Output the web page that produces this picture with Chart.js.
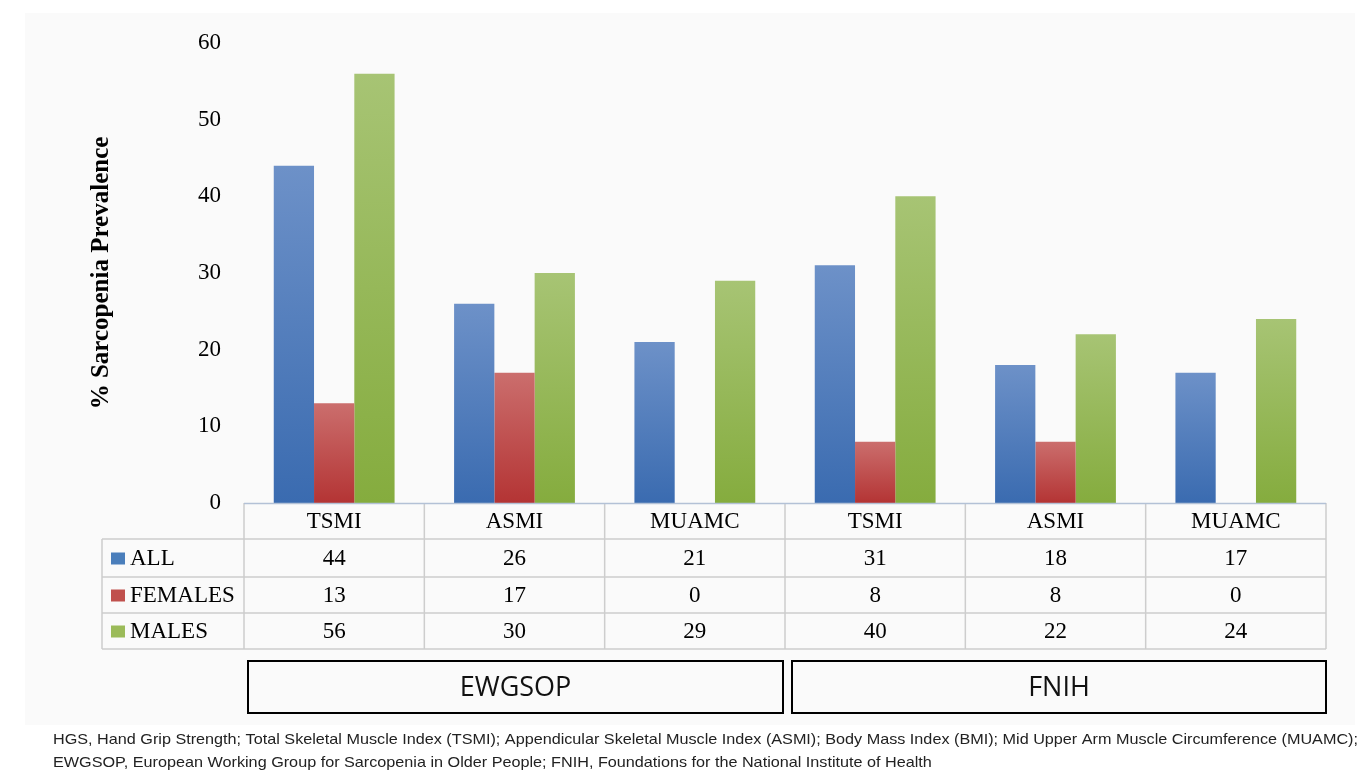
<!DOCTYPE html>
<html>
<head>
<meta charset="utf-8">
<script src="https://cdn.jsdelivr.net/npm/chart.js@4"></script>
<style>
  html, body { margin: 0; padding: 0; background: #ffffff; }
  #wrap { width: 1367px; height: 772px; position: relative; }
</style>
</head>
<body>
<div id="wrap"><canvas id="chart" width="1367" height="772"></canvas></div>
<script>
// Sarcopenia prevalence (%) by definition and criterion
const categories = ['TSMI', 'ASMI', 'MUAMC', 'TSMI', 'ASMI', 'MUAMC'];
const groups = ['EWGSOP', 'FNIH'];
const seriesNames = ['ALL', 'FEMALES', 'MALES'];
const allValues = [44, 26, 21, 31, 18, 17];
const femaleValues = [13, 17, 0, 8, 8, 0];
const maleValues = [56, 30, 29, 40, 22, 24];
const yTicks = [0, 10, 20, 30, 40, 50, 60];
const footnotes = [
  'HGS, Hand Grip Strength; Total Skeletal Muscle Index (TSMI); Appendicular Skeletal Muscle Index (ASMI); Body Mass Index (BMI); Mid Upper Arm Muscle Circumference (MUAMC);',
  'EWGSOP, European Working Group for Sarcopenia in Older People; FNIH, Foundations for the National Institute of Health'
];

// top / bottom shades for each series, plus the flat key colour
const palette = [
  { top: '#6d91c8', bottom: '#3a6bb0', key: '#4a7ebb' },
  { top: '#cb6e6d', bottom: '#b43434', key: '#c0504d' },
  { top: '#a7c474', bottom: '#85ac3e', key: '#9bbb59' }
];

const serifFont = '"Liberation Serif", "DejaVu Serif", serif';

function barGradient(ctx, idx) {
  const chart = ctx.chart;
  const c = palette[idx];
  if (!chart.chartArea || ctx.parsed === undefined) return c.key;
  const y = chart.scales.y;
  const top = y.getPixelForValue(ctx.parsed.y);
  const bottom = y.getPixelForValue(0);
  if (!isFinite(top) || bottom - top < 1) return c.key;
  const g = chart.ctx.createLinearGradient(0, top, 0, bottom);
  g.addColorStop(0, c.top);
  g.addColorStop(1, c.bottom);
  return g;
}

const backdrop = {
  id: 'backdrop',
  beforeDraw(chart) {
    const ctx = chart.ctx;
    ctx.save();
    ctx.fillStyle = '#ffffff';
    ctx.fillRect(0, 0, chart.width, chart.height);
    ctx.fillStyle = '#fafafa';
    ctx.fillRect(25, 13, 1330, 712);
    ctx.restore();
  }
};

// data table under the plot, group boxes and footnote
const dataTable = {
  id: 'dataTable',
  afterDraw(chart) {
    const ctx = chart.ctx;
    const area = chart.chartArea;
    const xs = chart.scales.x;
    const n = categories.length;
    const centers = categories.map((_, i) => xs.getPixelForValue(i));
    const bounds = [area.left];
    for (let i = 0; i < n - 1; i++) bounds.push((centers[i] + centers[i + 1]) / 2);
    bounds.push(area.right);

    const base = area.bottom;
    const rows = [base, base + 36, base + 74, base + 110, base + 146];
    const labelLeft = 102;

    ctx.save();
    // grid of the table
    ctx.strokeStyle = '#cdcdcd';
    ctx.lineWidth = 1.5;
    ctx.beginPath();
    for (let r = 1; r < rows.length; r++) {
      ctx.moveTo(labelLeft, rows[r]);
      ctx.lineTo(area.right, rows[r]);
    }
    bounds.forEach(b => {
      ctx.moveTo(b, rows[0]);
      ctx.lineTo(b, rows[rows.length - 1]);
    });
    ctx.moveTo(labelLeft, rows[1]);
    ctx.lineTo(labelLeft, rows[rows.length - 1]);
    ctx.stroke();

    // axis line along zero
    ctx.strokeStyle = '#b3c1d6';
    ctx.lineWidth = 1.5;
    ctx.beginPath();
    ctx.moveTo(area.left, base + 0.5);
    ctx.lineTo(area.right, base + 0.5);
    ctx.stroke();

    ctx.fillStyle = '#000000';
    ctx.font = '23px ' + serifFont;
    ctx.textAlign = 'center';
    ctx.textBaseline = 'middle';
    categories.forEach((c, i) => ctx.fillText(c, centers[i], (rows[0] + rows[1]) / 2 + 1));

    const seriesValues = [allValues, femaleValues, maleValues];
    seriesValues.forEach((vals, s) => {
      const mid = (rows[s + 1] + rows[s + 2]) / 2 + 1;
      ctx.textAlign = 'center';
      vals.forEach((v, i) => ctx.fillText(String(v), centers[i], mid));
      ctx.fillStyle = palette[s].key;
      ctx.fillRect(111, mid - 6.5, 14, 12);
      ctx.fillStyle = '#000000';
      ctx.textAlign = 'left';
      ctx.fillText(seriesNames[s], 130, mid);
    });

    // group boxes
    const half = n / 2;
    const boxTop = 661, boxBottom = 713;
    const spans = [[bounds[0] + 4, bounds[half] - 2], [bounds[half] + 7, bounds[n]]];
    ctx.strokeStyle = '#000000';
    ctx.lineWidth = 2;
    ctx.font = '27px "Open Sans", "Liberation Sans", sans-serif';
    ctx.textAlign = 'center';
    spans.forEach((sp, g) => {
      ctx.strokeRect(sp[0], boxTop, sp[1] - sp[0], boxBottom - boxTop);
      ctx.fillStyle = '#111111';
      ctx.fillText(groups[g], (sp[0] + sp[1]) / 2, (boxTop + boxBottom) / 2 + 1);
    });

    // footnote, condensed to the width of the figure
    ctx.font = '15px "Liberation Sans", Arial, sans-serif';
    ctx.fillStyle = '#222222';
    ctx.textAlign = 'left';
    ctx.textBaseline = 'alphabetic';
    const x0 = 53, targetWidth = 1305;
    const k = targetWidth / ctx.measureText(footnotes[0]).width;
    [744, 767].forEach((yb, i) => {
      ctx.save();
      ctx.translate(x0, yb);
      ctx.scale(k, 1);
      ctx.fillText(footnotes[i], 0, 0);
      ctx.restore();
    });
    ctx.restore();
  }
};

new Chart(document.getElementById('chart'), {
  type: 'bar',
  data: {
    labels: categories.map((c, i) => groups[i < 3 ? 0 : 1] + ' ' + c),
    datasets: [
      { label: seriesNames[0], data: allValues, backgroundColor: c => barGradient(c, 0) },
      { label: seriesNames[1], data: femaleValues, backgroundColor: c => barGradient(c, 1) },
      { label: seriesNames[2], data: maleValues, backgroundColor: c => barGradient(c, 2) }
    ]
  },
  options: {
    responsive: false,
    animation: false,
    devicePixelRatio: 1,
    layout: { padding: { left: 84, right: 41, top: 43, bottom: 269 } },
    datasets: { bar: { categoryPercentage: 0.67, barPercentage: 1.0, borderWidth: 0 } },
    plugins: {
      legend: { display: false },
      tooltip: { enabled: false }
    },
    scales: {
      x: { display: false },
      y: {
        min: 0,
        max: 60,
        afterBuildTicks(scale) { scale.ticks = yTicks.map(v => ({ value: v })); },
        afterFit(scale) { scale.width = 160; },
        border: { display: false },
        grid: { display: false, drawTicks: false },
        ticks: {
          padding: 23,
          color: '#000000',
          font: { family: serifFont, size: 23 }
        },
        title: {
          display: true,
          text: '% Sarcopenia Prevalence',
          color: '#000000',
          padding: { top: 3, bottom: 3 },
          font: { family: serifFont, size: 25, weight: 'bold' }
        }
      }
    }
  },
  plugins: [backdrop, dataTable]
});
</script>
</body>
</html>
